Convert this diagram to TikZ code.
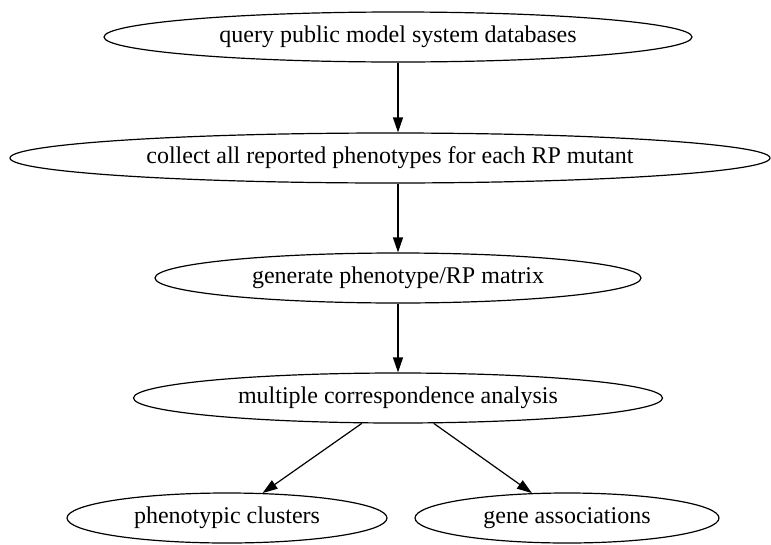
\documentclass[tikz,border=0pt]{standalone}
\usepackage{fontspec}
\setmainfont{Liberation Serif}
\usetikzlibrary{arrows.meta,shapes.geometric}

\begin{document}
\begin{tikzpicture}[x=1pt,y=-1pt,>={Triangle[length=15pt,width=10pt]},line width=1.2pt]
  \tikzstyle{every node}=[ellipse,draw,inner sep=0pt,minimum height=50pt,font=\fontsize{24}{28}\selectfont]
  \useasboundingbox (0,0) rectangle (771,544);
  % Steps
  \node[minimum width=588pt] (query) at (398,37) {query public model system databases};
  \node[minimum width=760pt] (collect) at (390,158) {collect all reported phenotypes for each RP mutant};
  \node[minimum width=486pt] (matrix) at (398,278) {generate phenotype/RP matrix};
  \node[minimum width=529pt] (mca) at (398,398) {multiple correspondence analysis};
  \node[minimum width=320pt] (clusters) at (227,518) {phenotypic clusters};
  \node[minimum width=304pt] (genes) at (567,518) {gene associations};

  % Flow
  \path[->]
    (query) edge (query |- collect.north)
    (collect.south -| matrix) edge (matrix)
    (matrix) edge (mca)
    (mca) edge (clusters)
    (mca) edge (genes);
\end{tikzpicture}
\end{document}
